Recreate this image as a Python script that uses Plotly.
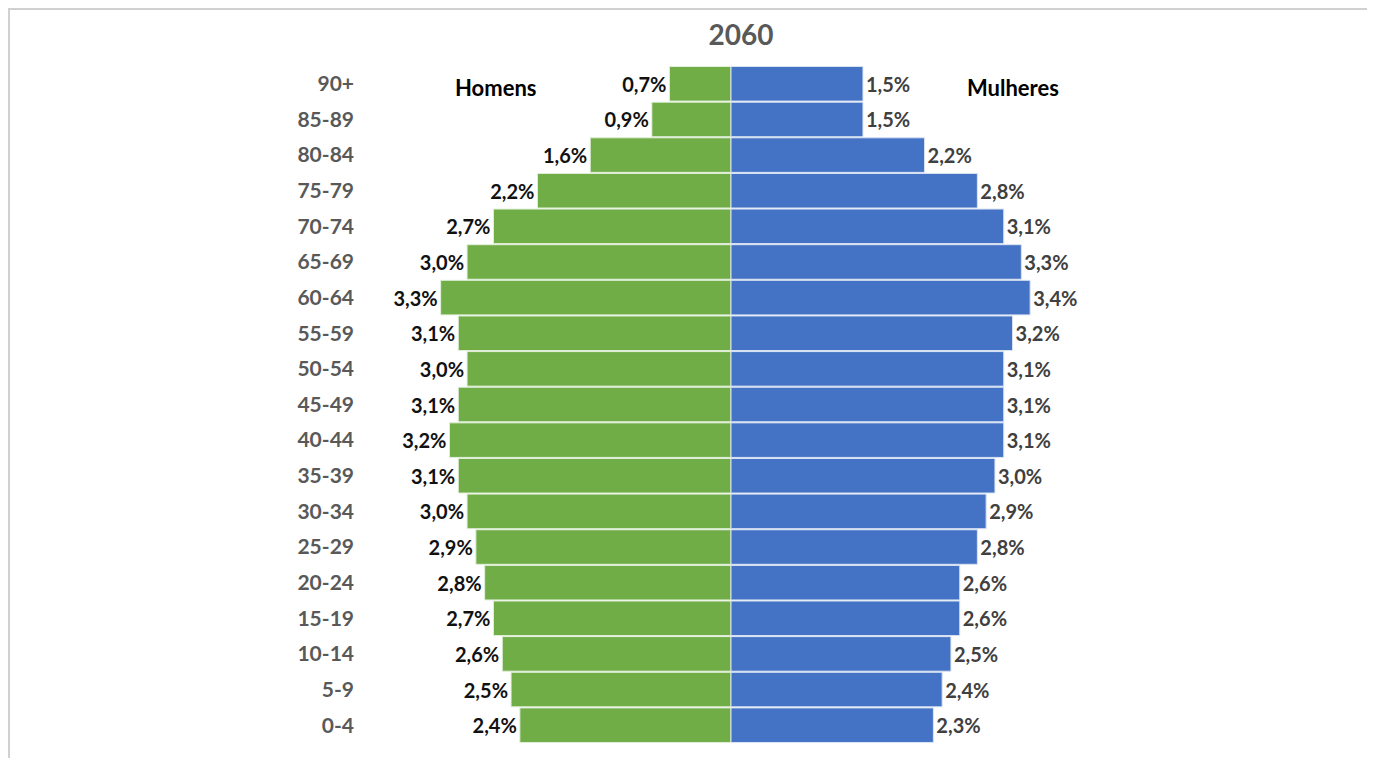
"""Population pyramid for 2060: men (left) vs women (right), share of total population."""

import plotly.graph_objects as go

age_groups = ["0-4", "5-9", "10-14", "15-19", "20-24", "25-29", "30-34", "35-39",
              "40-44", "45-49", "50-54", "55-59", "60-64", "65-69", "70-74",
              "75-79", "80-84", "85-89", "90+"]
homens = [2.4, 2.5, 2.6, 2.7, 2.8, 2.9, 3.0, 3.1, 3.2, 3.1, 3.0, 3.1, 3.3, 3.0, 2.7,
          2.2, 1.6, 0.9, 0.7]
mulheres = [2.3, 2.4, 2.5, 2.6, 2.6, 2.8, 2.9, 3.0, 3.1, 3.1, 3.1, 3.2, 3.4, 3.3, 3.1,
            2.8, 2.2, 1.5, 1.5]


def pct(v):
    return f"{v:.1f}%".replace(".", ",")


FONT = "Lato, 'Open Sans', sans-serif"

fig = go.Figure()

# men drawn to the left of zero, labelled with positive values
fig.add_trace(go.Bar(
    y=age_groups,
    x=[-v for v in homens],
    orientation="h",
    name="Homens",
    marker=dict(color="#70AD47", line=dict(color="#E2EFDA", width=1)),
    text=[pct(v) for v in homens],
    textposition="outside",
    textfont=dict(family=FONT, size=20, color="#111111", weight="bold"),
    cliponaxis=False,
))

fig.add_trace(go.Bar(
    y=age_groups,
    x=mulheres,
    orientation="h",
    name="Mulheres",
    marker=dict(color="#4472C4", line=dict(color="#DAE3F3", width=1)),
    text=[pct(v) for v in mulheres],
    textposition="outside",
    textfont=dict(family=FONT, size=20, color="#404040", weight="bold"),
    cliponaxis=False,
))

fig.add_annotation(x=-2.67, y="90+", yshift=-4, text="<b>Homens</b>", showarrow=False,
                   font=dict(family=FONT, size=22, color="#000000"))
fig.add_annotation(x=3.2, y="90+", yshift=-4, text="<b>Mulheres</b>", showarrow=False,
                   font=dict(family=FONT, size=22, color="#000000"))

# light frame around the chart area, as in the spreadsheet export
fig.add_shape(type="rect", xref="paper", yref="paper",
              x0=-0.4863, x1=1.3743, y0=-0.03, y1=1.0842,
              line=dict(color="#D0D0D0", width=2), fillcolor="rgba(0,0,0,0)",
              layer="below")

fig.update_layout(
    width=1367,
    height=750,
    title=dict(text="<b>2060</b>", x=0.5362, xanchor="center", y=0.964, yanchor="middle",
               font=dict(family=FONT, size=28, color="#595959")),
    barmode="relative",
    bargap=0.03,
    showlegend=False,
    margin=dict(l=357, r=278, t=58, b=15),
    paper_bgcolor="white",
    plot_bgcolor="white",
    xaxis=dict(range=[-4.16, 4.16], visible=False, fixedrange=True),
    yaxis=dict(categoryorder="array", categoryarray=age_groups, showgrid=False,
               showline=False, ticks="", ticklabelstandoff=10,
               tickfont=dict(family=FONT, size=21, color="#595959", weight="bold")),
)

fig.write_html("out.html")
